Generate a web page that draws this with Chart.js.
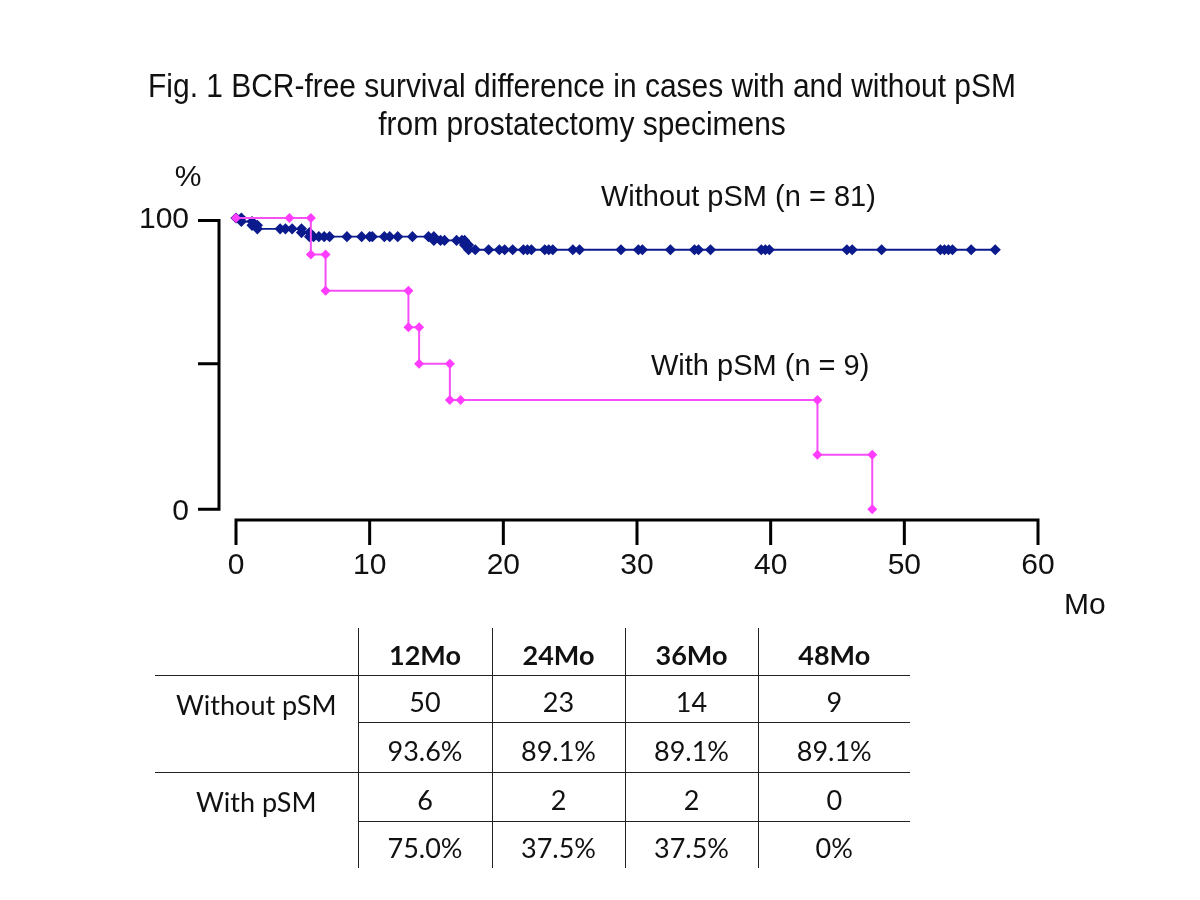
<!DOCTYPE html>
<html lang="en">
<head>
<meta charset="UTF-8">
<title>Fig. 1 BCR-free survival</title>
<script src="https://cdn.jsdelivr.net/npm/chart.js@4.4.1/dist/chart.umd.min.js"></script>
<style>
  * { box-sizing: border-box; margin: 0; padding: 0; }
  html, body { width: 1200px; height: 900px; overflow: hidden; background: #fff; }
  body { position: relative; font-family: 'Liberation Sans', Arial, sans-serif; color: #111; }
  #chart { position: absolute; left: 0; top: 0; }
  .title {
    position: absolute; left: 0; top: 67px; width: 1164px;
    text-align: center;
    font-family: 'Liberation Sans', Arial, sans-serif;
    font-size: 33px; line-height: 38px; color: #111;
    transform: scaleX(0.907); transform-origin: 582px 0;
  }
  #table {
    position: absolute; left: 155px; top: 628px;
    border-collapse: collapse; table-layout: fixed;
    font-family: Lato, 'Noto Sans', sans-serif; font-size: 27px; color: #111;
  }
  #table td { text-align: center; vertical-align: middle; padding: 6px 0 0 0; }
  #table td.head { font-weight: bold; }
  #table td.rowname { vertical-align: top; padding-top: 12px; }
  #table td.data { border-left: 1.5px solid #222; }
  #table td.line { border-bottom: 1.5px solid #222; }
</style>
</head>
<body>
  <canvas id="chart" width="1200" height="900"></canvas>
  <div class="title">Fig. 1 BCR-free survival difference in cases with and without pSM<br>from prostatectomy specimens</div>
  <table id="table"></table>

<script>
  // axis ticks
  const xTicks = [0, 10, 20, 30, 40, 50, 60];
  const yTicks = [0, 50, 100];
  const yTickLabels = ['0', '', '100'];

  // Without pSM (n = 81): months / BCR-free %
  const withoutMonths = [0, 0.4, 0.4, 1.2, 1.2, 1.6, 1.6, 3.3, 3.7, 4.2, 4.9, 4.9, 5.5, 5.5,
    5.8, 6.2, 6.6, 7.0, 8.3, 9.4, 10.0, 10.2, 11.1, 11.5, 12.1, 13.2, 14.4, 14.8, 14.8,
    15.3, 15.6, 16.5, 16.9, 17.1, 17.1, 17.4, 17.4, 17.9, 18.9, 19.7, 20.1, 20.7, 21.5,
    21.8, 22.1, 23.1, 23.4, 23.7, 25.2, 25.7, 28.8, 30.1, 30.4, 32.5, 34.3, 34.6, 35.5,
    39.3, 39.6, 39.9, 45.7, 46.1, 48.3, 52.7, 53.0, 53.3, 53.6, 55.0, 56.8];
  const withoutPct = [100, 100, 98.8, 98.8, 97.5, 97.5, 96.3, 96.3, 96.3, 96.3, 96.3, 95.0, 95.0, 93.6,
    93.6, 93.6, 93.6, 93.6, 93.6, 93.6, 93.6, 93.6, 93.6, 93.6, 93.6, 93.6, 93.6, 93.6, 92.3,
    92.3, 92.3, 92.3, 92.3, 92.3, 90.7, 90.7, 89.1, 89.1, 89.1, 89.1, 89.1, 89.1, 89.1,
    89.1, 89.1, 89.1, 89.1, 89.1, 89.1, 89.1, 89.1, 89.1, 89.1, 89.1, 89.1, 89.1, 89.1,
    89.1, 89.1, 89.1, 89.1, 89.1, 89.1, 89.1, 89.1, 89.1, 89.1, 89.1, 89.1];

  // With pSM (n = 9)
  const withMonths = [0, 4.0, 5.6, 5.6, 6.7, 6.7, 12.9, 12.9, 13.7, 13.7, 16.0, 16.0, 16.8, 43.5, 43.5, 47.6, 47.6];
  const withPct = [100, 100, 100, 87.5, 87.5, 75, 75, 62.5, 62.5, 50, 50, 37.5, 37.5, 37.5, 18.75, 18.75, 0];

  // table under the chart
  const tableCols = ['12Mo', '24Mo', '36Mo', '48Mo'];
  const atRiskWithout = [50, 23, 14, 9];
  const survWithout = ['93.6%', '89.1%', '89.1%', '89.1%'];
  const atRiskWith = [6, 2, 2, 0];
  const survWith = ['75.0%', '37.5%', '37.5%', '0%'];

  const toPoints = (xs, ys) => xs.map((m, i) => ({ x: m, y: ys[i] }));

  // axes are drawn apart from the plot, like the original figure
  const offsetAxes = {
    id: 'offsetAxes',
    afterDraw(chart) {
      const { ctx, scales: { x, y } } = chart;
      ctx.save();
      ctx.strokeStyle = '#000';
      ctx.fillStyle = '#111';
      ctx.lineWidth = 3;

      // y axis
      const yx = 219;
      ctx.beginPath();
      ctx.moveTo(yx, y.getPixelForValue(100) + 1);
      ctx.lineTo(yx, y.getPixelForValue(0) + 1.5);
      yTicks.forEach(v => {
        const py = v === 100 ? y.getPixelForValue(v) + 2.5 : y.getPixelForValue(v);
        ctx.moveTo(yx - 21, py);
        ctx.lineTo(yx, py);
      });
      ctx.stroke();

      ctx.font = '30px "Liberation Sans", Arial, sans-serif';
      ctx.textAlign = 'right';
      ctx.textBaseline = 'middle';
      yTicks.forEach((v, i) => {
        if (yTickLabels[i]) ctx.fillText(yTickLabels[i], 189, y.getPixelForValue(v) + 2);
      });
      ctx.textAlign = 'center';
      ctx.fillText('%', 188, 178);

      // x axis
      const xy = 520;
      ctx.beginPath();
      ctx.moveTo(x.getPixelForValue(0) - 1.5, xy);
      ctx.lineTo(x.getPixelForValue(60) + 1.5, xy);
      xTicks.forEach(v => {
        const px = x.getPixelForValue(v);
        ctx.moveTo(px, xy);
        ctx.lineTo(px, xy + 25);
      });
      ctx.stroke();

      ctx.textAlign = 'center';
      xTicks.forEach(v => ctx.fillText(String(v), x.getPixelForValue(v), 566));
      ctx.textAlign = 'left';
      ctx.fillText('Mo', 1064, 606);

      // curve labels
      ctx.font = '29px "Liberation Sans", Arial, sans-serif';
      ctx.textBaseline = 'alphabetic';
      ctx.fillText('Without pSM (n = 81)', 601, 206);
      ctx.fillText('With pSM (n = 9)', 651, 375);
      ctx.restore();
    }
  };

  new Chart(document.getElementById('chart'), {
    type: 'line',
    data: {
      datasets: [
        {
          label: 'With pSM (n = 9)',
          data: toPoints(withMonths, withPct),
          borderColor: '#F550F5',
          backgroundColor: '#FF3CFF',
          borderWidth: 2,
          pointStyle: 'rectRot',
          pointRadius: 5,
          pointBorderWidth: 0,
          tension: 0,
          clip: false
        },
        {
          label: 'Without pSM (n = 81)',
          data: toPoints(withoutMonths, withoutPct),
          borderColor: '#0B1A8C',
          backgroundColor: '#0B1A8C',
          borderWidth: 1.8,
          pointStyle: 'rectRot',
          pointRadius: 5.6,
          pointBorderWidth: 0,
          tension: 0,
          clip: false
        }
      ]
    },
    options: {
      responsive: false,
      animation: false,
      layout: { padding: { left: 236, right: 162, top: 218, bottom: 390.7 } },
      plugins: { legend: { display: false }, tooltip: { enabled: false }, title: { display: false } },
      scales: {
        x: { type: 'linear', min: 0, max: 60, display: false },
        y: { type: 'linear', min: 0, max: 100, display: false }
      }
    },
    plugins: [offsetAxes]
  });

  // build the at-risk table
  const colW = [203, 134, 133, 133, 152];
  const rowH = [47, 47, 50, 49, 47];
  const tbl = document.getElementById('table');
  const cg = document.createElement('colgroup');
  colW.forEach(w => { const c = document.createElement('col'); c.style.width = w + 'px'; cg.appendChild(c); });
  tbl.appendChild(cg);

  function addRow(h, name, values, cls, nameLine, dataLine) {
    const tr = document.createElement('tr');
    tr.style.height = h + 'px';
    if (name !== null) {
      const th = document.createElement('td');
      th.textContent = name;
      if (name) { th.rowSpan = 2; th.className = 'rowname'; }
      if (nameLine) th.classList.add('line');
      tr.appendChild(th);
    }
    values.forEach(v => {
      const td = document.createElement('td');
      td.textContent = v;
      td.className = 'data ' + cls + (dataLine ? ' line' : '');
      tr.appendChild(td);
    });
    tbl.appendChild(tr);
  }

  addRow(rowH[0], '', tableCols, 'head', true, true);
  addRow(rowH[1], 'Without pSM', atRiskWithout, '', true, true);
  addRow(rowH[2], null, survWithout, '', false, true);
  addRow(rowH[3], 'With pSM', atRiskWith, '', false, true);
  addRow(rowH[4], null, survWith, '', false, false);
</script>
</body>
</html>
